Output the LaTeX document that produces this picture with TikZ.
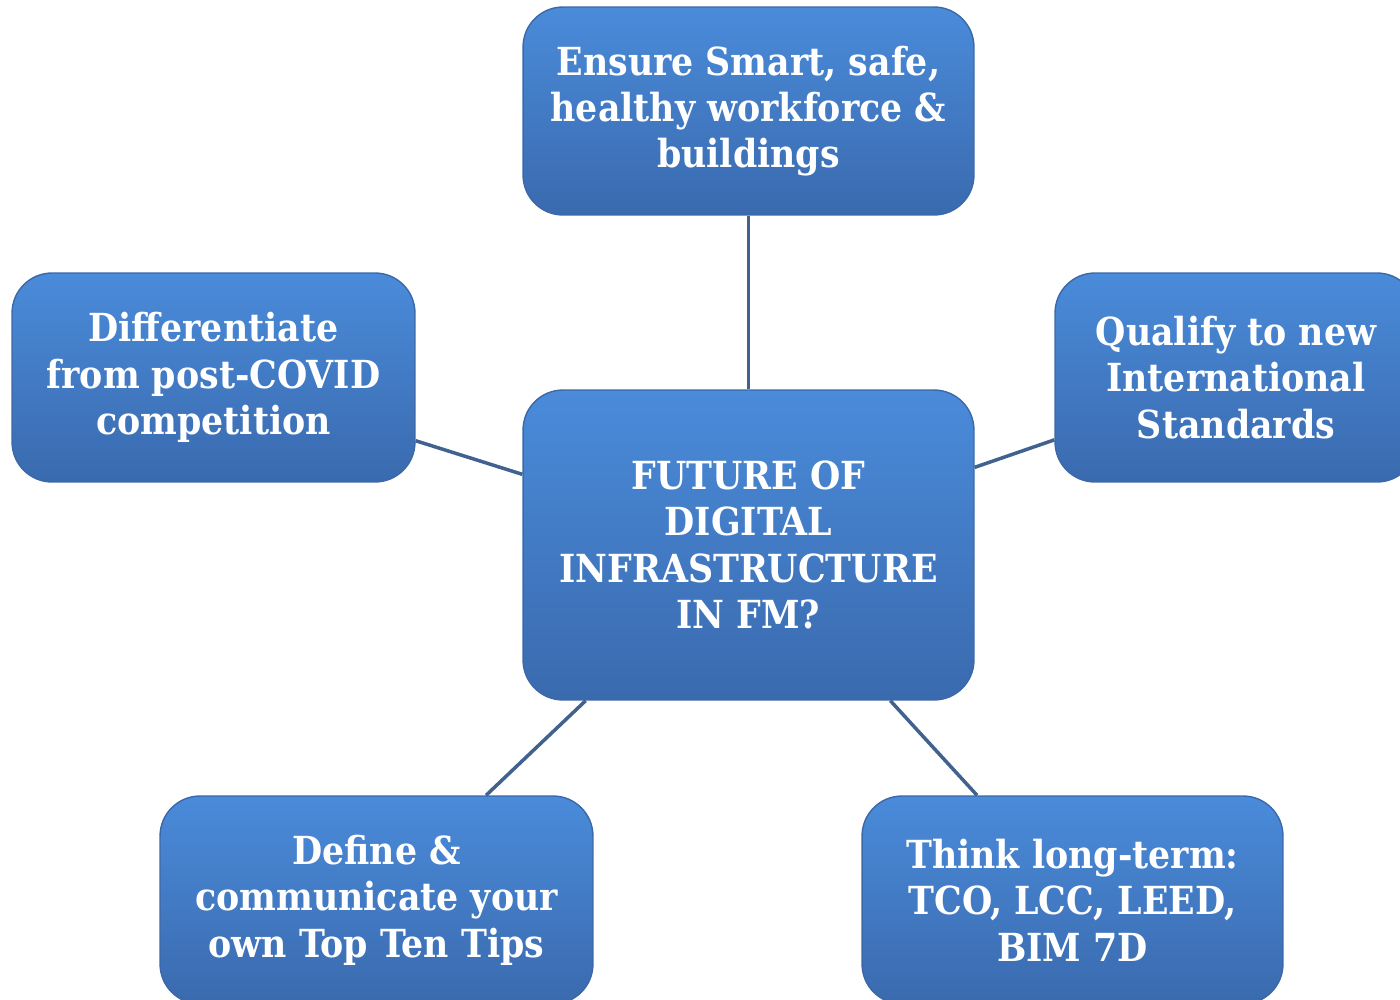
\documentclass[tikz,border=0pt]{standalone}
\usepackage{fontspec}
\setmainfont{DejaVu Serif Condensed}
\usepackage{tikz}
\usetikzlibrary{calc}
\definecolor{fm_top}{RGB}{74, 139, 218}
\definecolor{fm_bot}{RGB}{58, 106, 174}
\definecolor{fm_edge}{RGB}{60, 104, 168}
\definecolor{fm_line}{RGB}{65, 98, 143}
\tikzstyle{bn}=[rectangle,rounded corners=0.8cm,top color=fm_top,bottom color=fm_bot,
  draw=fm_edge,line width=0.8pt,text=white,align=center,inner sep=0pt,
  font=\bfseries\fontsize{22}{26.4}\selectfont]
\tikzstyle{cn}=[draw=fm_line,line width=2pt]
\begin{document}
\begin{tikzpicture}[x=0.02cm,y=-0.02cm]
        \useasboundingbox (0,0) rectangle (1400,1000);
        \node[style=bn,minimum width=9.02cm,minimum height=6.2cm] (fut) at (748.5,545)
          {FUTURE OF\\DIGITAL\\INFRASTRUCTURE\\IN FM?};
        \node[style=bn,minimum width=9.02cm,minimum height=4.16cm] (ens) at (748.5,111)
          {Ensure Smart, safe,\\healthy workforce \&\\buildings};
        \node[style=bn,minimum width=8.06cm,minimum height=4.18cm] (dif) at (213.5,377.5)
          {Differentiate\\from post-COVID\\competition};
        \node[style=bn,minimum width=7.24cm,minimum height=4.18cm] (qua) at (1236,377.5)
          {Qualify to new\\International\\Standards};
        \node[style=bn,minimum width=8.66cm,minimum height=4.16cm] (def) at (376.5,900)
          {Define \&\\communicate your\\own Top Ten Tips};
        \node[style=bn,minimum width=8.42cm,minimum height=4.16cm] (thi) at (1072.5,900)
          {Think long-term:\\TCO, LCC, LEED,\\BIM 7D};
        \draw[style=cn] (fut) to (ens);
        \draw[style=cn] (fut) to (dif);
        \draw[style=cn] (fut) to (qua);
        \draw[style=cn] (fut) to (def);
        \draw[style=cn] (fut) to (thi);
    \end{tikzpicture}
\end{document}
